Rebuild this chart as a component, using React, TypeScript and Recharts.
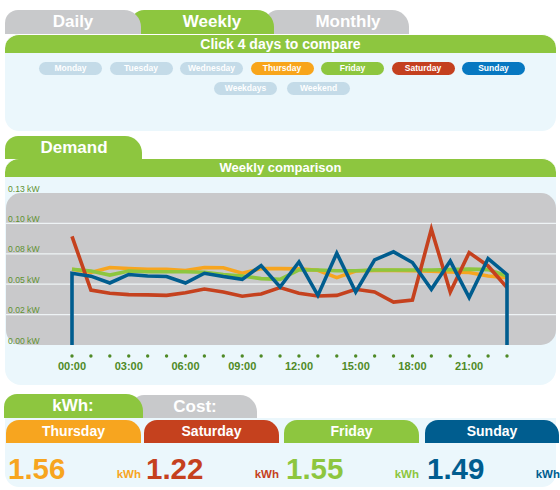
import React from "react";
import { LineChart, Line, XAxis, YAxis, ReferenceLine } from "recharts";

// Weekly demand comparison: hourly kW for the four selected days.
const hours = [0, 1, 2, 3, 4, 5, 6, 7, 8, 9, 10, 11, 12, 13, 14, 15, 16, 17, 18, 19, 20, 21, 22, 23];

const thursday = [
  0.0623, 0.0596, 0.0637, 0.0629, 0.0622, 0.0623, 0.0612, 0.0637, 0.0635, 0.059, 0.0629, 0.0628,
  0.0626, 0.0615, 0.0554, 0.0609, 0.0614, 0.0614, 0.061, 0.0606, 0.06, 0.0596, 0.0568, 0.0554,
];
const friday = [
  0.0623, 0.0609, 0.0575, 0.0609, 0.0602, 0.0602, 0.0602, 0.0598, 0.058, 0.0568, 0.0546, 0.054,
  0.0617, 0.0617, 0.061, 0.061, 0.0617, 0.0617, 0.0617, 0.0617, 0.062, 0.0624, 0.062, 0.0568,
];
const saturday = [
  0.0893, 0.0452, 0.0425, 0.0414, 0.0412, 0.0408, 0.043, 0.046, 0.0436, 0.0401, 0.042, 0.0472,
  0.0425, 0.0403, 0.0408, 0.0458, 0.0436, 0.0353, 0.037, 0.0953, 0.0436, 0.076, 0.065, 0.0472,
];
const sunday = [
  0.059, 0.0566, 0.051, 0.058, 0.0568, 0.0563, 0.051, 0.059, 0.0563, 0.054, 0.0653, 0.0477,
  0.0683, 0.0408, 0.0755, 0.0436, 0.07, 0.0766, 0.0678, 0.0458, 0.069, 0.039, 0.0711, 0.058,
];

const yTicks = [0, 0.025, 0.05, 0.075, 0.1, 0.125];
const yLabels = ["0.00 kW", "0.02 kW", "0.05 kW", "0.08 kW", "0.10 kW", "0.13 kW"];

const dayButtons = ["Monday", "Tuesday", "Wednesday", "Thursday", "Friday", "Saturday", "Sunday"];
const groupButtons = ["Weekdays", "Weekend"];
const totalDays = ["Thursday", "Saturday", "Friday", "Sunday"];
const totalKwh = ["1.56", "1.22", "1.55", "1.49"];

const GREEN = "#8dc63f";
const GREY = "#c8c9cb";
const PANEL = "#ebf7fc";
const PLOT = "#c9c9cb";
const IDLE = "#c4dbe8";
const AXIS_GREEN = "#4f8a26";

const lineColor: Record<string, string> = {
  Thursday: "#f7a51f",
  Friday: "#8dc63f",
  Saturday: "#c5411e",
  Sunday: "#005d8f",
};
const buttonColor: Record<string, string> = {
  Thursday: "#f8a51b",
  Friday: "#8dc63f",
  Saturday: "#c4401f",
  Sunday: "#0778c1",
};

const toPoints = (vals: number[]) => hours.map((h, i) => ({ h, v: vals[i] }));
// Sunday's trace drops to zero at both ends in the original
const sundayPoints = [{ h: hours[0], v: 0 }, ...toPoints(sunday), { h: hours[hours.length - 1], v: 0 }];

const font = "'Liberation Sans', Arial, sans-serif";

function XTick(props: any) {
  const { x, y, payload } = props;
  return (
    <g>
      <circle cx={x} cy={y + 11} r={1.7} fill={AXIS_GREEN} />
      {payload.value % 3 === 0 && (
        <text x={x} y={y + 25} textAnchor="middle" fill={AXIS_GREEN} fontSize={11} fontWeight="bold" fontFamily={font}>
          {String(payload.value).padStart(2, "0") + ":00"}
        </text>
      )}
    </g>
  );
}

// kW label sits just above each gridline, at the left edge of the plot
const gridLabel = (text: string) => (props: any) => {
  const vb = props.viewBox || {};
  return (
    <text x={(vb.x || 0) + 2} y={(vb.y || 0) - 1.5} fill="#5f9132" fontSize={8.6} fontFamily={font}>
      {text}
    </text>
  );
};

function Tab({ left, top, width, height, color, z, label, textCenter, size = 17 }: any) {
  return (
    <div
      style={{
        position: "absolute",
        left,
        top,
        width,
        height,
        background: color,
        borderRadius: "13px 17px 0 0",
        zIndex: z,
      }}
    >
      <div
        style={{
          position: "absolute",
          left: textCenter - left - 60,
          width: 120,
          top: 0,
          height,
          lineHeight: height + "px",
          textAlign: "center",
          color: "#fff",
          fontWeight: "bold",
          fontSize: size,
        }}
      >
        {label}
      </div>
    </div>
  );
}

function Pill({ left, top, label, color }: any) {
  return (
    <div
      style={{
        position: "absolute",
        left,
        top,
        width: 63,
        height: 13,
        borderRadius: 7,
        background: color,
        color: "#fff",
        fontSize: 8.5,
        fontWeight: "bold",
        lineHeight: "13px",
        textAlign: "center",
      }}
    >
      {label}
    </div>
  );
}

function HeaderBar({ top, height, label, size }: any) {
  return (
    <div
      style={{
        position: "absolute",
        left: 5,
        top,
        width: 551,
        height,
        background: GREEN,
        borderRadius: "14px 14px 0 0",
        borderTop: "1px solid #fff",
        boxSizing: "border-box",
        color: "#fff",
        fontWeight: "bold",
        fontSize: size,
        lineHeight: height - 1 + "px",
        textAlign: "center",
        zIndex: 2,
      }}
    >
      {label}
    </div>
  );
}

export default function App() {
  const colLeft = [6, 144, 284, 425];
  const colWidth = 135;

  return (
    <div
      style={{
        position: "absolute",
        left: 0,
        top: 0,
        width: 560,
        height: 490,
        background: "#fff",
        fontFamily: font,
        overflow: "hidden",
      }}
    >
      {/* period tabs */}
      <Tab left={5} top={10} width={136} height={24} color={GREY} z={3} label="Daily" textCenter={73} />
      <Tab left={131} top={10} width={143} height={24} color={GREEN} z={2} label="Weekly" textCenter={212} />
      <Tab left={265} top={10} width={144} height={24} color={GREY} z={1} label="Monthly" textCenter={348} />

      {/* day picker panel */}
      <div style={{ position: "absolute", left: 5, top: 34, width: 551, height: 97, background: PANEL, borderRadius: 14 }} />
      <HeaderBar top={34} height={19} label="Click 4 days to compare" size={14} />
      {dayButtons.map((d, i) => (
        <Pill key={d} left={39 + i * 70.5} top={62} label={d} color={buttonColor[d] || IDLE} />
      ))}
      {groupButtons.map((d, i) => (
        <Pill key={d} left={214 + i * 73} top={82} label={d} color={IDLE} />
      ))}

      {/* demand panel */}
      <Tab left={5} top={136} width={137} height={23} color={GREEN} z={3} label="Demand" textCenter={74} />
      <div style={{ position: "absolute", left: 5, top: 158, width: 551, height: 227, background: PANEL, borderRadius: "14px 14px 16px 16px" }} />
      <HeaderBar top={158} height={19} label="Weekly comparison" size={13} />
      <div style={{ position: "absolute", left: 6, top: 193, width: 550, height: 152, background: PLOT, borderRadius: 15 }} />
      <div style={{ position: "absolute", left: 6, top: 185 }}>
        <LineChart width={550} height={195} margin={{ top: 8, right: 0, bottom: 0, left: 0 }}>
          <XAxis
            dataKey="h"
            type="number"
            domain={[0, 23]}
            ticks={hours}
            interval={0}
            padding={{ left: 66, right: 49 }}
            axisLine={false}
            tickLine={false}
            tickSize={0}
            tickMargin={0}
            height={35}
            tick={<XTick />}
            allowDuplicatedCategory
          />
          <YAxis type="number" domain={[0, 0.125]} ticks={yTicks} hide />
          {yTicks.map((g, i) => (
            <ReferenceLine
              key={g}
              y={g}
              stroke="#eef3f5"
              strokeWidth={1.2}
              strokeOpacity={i === 0 || i === yTicks.length - 1 ? 0 : 1}
              label={gridLabel(yLabels[i])}
            />
          ))}
          <Line data={toPoints(thursday)} dataKey="v" stroke={lineColor.Thursday} strokeWidth={3.6} dot={false} isAnimationActive={false} />
          <Line data={toPoints(friday)} dataKey="v" stroke={lineColor.Friday} strokeWidth={3.6} dot={false} isAnimationActive={false} />
          <Line data={toPoints(saturday)} dataKey="v" stroke={lineColor.Saturday} strokeWidth={3.6} dot={false} isAnimationActive={false} />
          <Line data={sundayPoints} dataKey="v" stroke={lineColor.Sunday} strokeWidth={3.6} dot={false} isAnimationActive={false} />
        </LineChart>
      </div>

      {/* totals panel */}
      <Tab left={4} top={394} width={139} height={24} color={GREEN} z={3} label="kWh:" textCenter={73} />
      <Tab left={131} top={395} width={126} height={23} color={GREY} z={2} label="Cost:" textCenter={195} />
      <div style={{ position: "absolute", left: 5, top: 418, width: 551, height: 69, background: PANEL, borderRadius: "0 0 14px 14px" }} />
      {totalDays.map((d, i) => (
        <React.Fragment key={d}>
          <div
            style={{
              position: "absolute",
              left: colLeft[i],
              top: 420,
              width: colWidth - (i === 3 ? 1 : 0),
              height: 23,
              background: lineColor[d],
              borderRadius: "13px 15px 0 0",
              color: "#fff",
              fontWeight: "bold",
              fontSize: 14,
              lineHeight: "23px",
              textAlign: "center",
            }}
          >
            {d}
          </div>
          <div
            style={{
              position: "absolute",
              left: colLeft[i] + 2,
              top: 454,
              fontSize: 29.5,
              fontWeight: "bold",
              color: lineColor[d],
              lineHeight: "30px",
            }}
          >
            {totalKwh[i]}
          </div>
          <div
            style={{
              position: "absolute",
              left: colLeft[i] + colWidth - 40,
              width: 40,
              top: 468,
              fontSize: 11.5,
              fontWeight: "bold",
              color: lineColor[d],
              textAlign: "right",
              lineHeight: "12px",
            }}
          >
            kWh
          </div>
        </React.Fragment>
      ))}
    </div>
  );
}
